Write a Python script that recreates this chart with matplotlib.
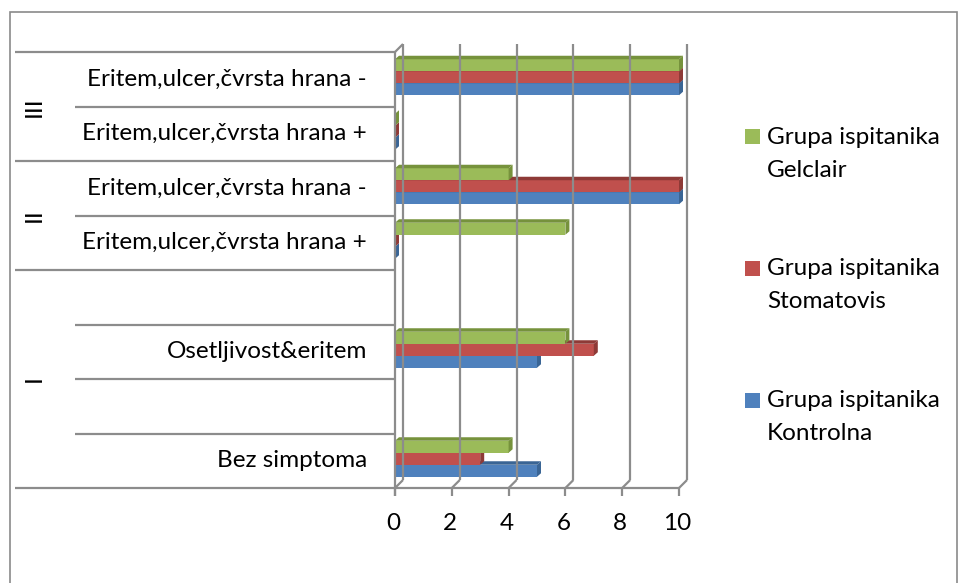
import numpy as np
import matplotlib.pyplot as plt
import matplotlib.transforms as mtransforms
from matplotlib.patches import Polygon, Rectangle

# categories bottom -> top ("" = empty slot in the Excel range)
categories = [
    "Bez simptoma",
    "",
    "Osetljivost&eritem",
    "",
    "Eritem,ulcer,čvrsta hrana +",
    "Eritem,ulcer,čvrsta hrana -",
    "Eritem,ulcer,čvrsta hrana +",
    "Eritem,ulcer,čvrsta hrana -",
]
group_labels = ["I", "II", "III"]
group_spans = [(0, 3), (4, 5), (6, 7)]

kontrolna = [5, None, 5, None, 0, 10, 0, 10]
stomatovis = [3, None, 7, None, 0, 10, 0, 10]
gelclair = [4, None, 6, None, 6, 4, 0, 10]

series_names = ["Grupa ispitanika\nKontrolna", "Grupa ispitanika\nStomatovis", "Grupa ispitanika\nGelclair"]
x_ticks = [0, 2, 4, 6, 8, 10]

colors = ["#4F81BD", "#C0504D", "#9BBB59"]
dark_colors = ["#3A6595", "#8E3A37", "#76923C"]
line_col = "#8c8c8c"

plt.rcParams["font.family"] = ["Lato", "DejaVu Sans"]
FS = 17.5

W, H = 960, 583
fig = plt.figure(figsize=(W / 100, H / 100), dpi=100)

# plot area: front x=0 at px 395, x=10 at px 679; y from px 488 (bottom) to 52 (top)
ax = fig.add_axes([395 / W, 1 - 488 / H, 284 / W, 436 / H])
ax.set_xlim(0, 10)
ax.set_ylim(-0.5, 7.5)
ax.axis("off")

ux = 284 / 10.0   # px per value unit
uy = 436 / 8.0    # px per category
wall_dx, wall_dy = 8 / ux, 8 / uy
bar_dx, bar_dy = 4 / ux, 3.5 / uy
bar_h = 12 / uy
bar_off = -16 / uy

ln = dict(color=line_col, lw=1.6, clip_on=False, solid_capstyle="butt")

# back wall gridlines + floor diagonals + ticks
for v in x_ticks:
    ax.plot([v + wall_dx, v + wall_dx], [-0.5 + wall_dy, 7.5 + wall_dy], **ln)
    ax.plot([v, v + wall_dx], [-0.5, -0.5 + wall_dy], **ln)
    ax.plot([v, v], [-0.5, -0.5 - 8 / uy], **ln)
ax.plot([0, 0], [-0.5 - 8 / uy, 7.5], **ln)
ax.plot([0, wall_dx], [7.5, 7.5 + wall_dy], **ln)

# category axis lines on the left
trans_left = mtransforms.blended_transform_factory(fig.transFigure, ax.transData)
outer = [-0.5] + [g[1] + 0.5 for g in group_spans]
for b in outer:
    ax.plot([15 / W, 395 / W], [b, b], transform=trans_left, **ln)
ax.plot([395 / W, 679 / W], [-0.5, -0.5], transform=trans_left, **ln)
for lo, hi in group_spans:
    for b in np.arange(lo + 0.5, hi, 1.0):
        ax.plot([75 / W, 395 / W], [b, b], transform=trans_left, **ln)

for i, cat in enumerate(categories):
    if cat:
        ax.text(367 / W, i, cat, transform=trans_left, ha="right", va="center", fontsize=FS)
for g, (lo, hi) in zip(group_labels, group_spans):
    ax.text(34 / W, (lo + hi) / 2, g, transform=trans_left, rotation=90,
            ha="center", va="center", fontsize=FS)

# bars with a little 3D top and end face
for j, vals in enumerate([kontrolna, stomatovis, gelclair]):
    for i, v in enumerate(vals):
        if v is None:
            continue
        y0 = i + bar_off + j * bar_h
        y1 = y0 + bar_h
        ax.barh(y0, v, height=bar_h, left=0, align="edge", color=colors[j], lw=0)
        top = Polygon([(0, y1), (v, y1), (v + bar_dx, y1 + bar_dy), (bar_dx, y1 + bar_dy)],
                      closed=True, fc=dark_colors[j], lw=0, clip_on=False)
        end = Polygon([(v, y0), (v, y1), (v + bar_dx, y1 + bar_dy), (v + bar_dx, y0 + bar_dy)],
                      closed=True, fc=dark_colors[j], lw=0, clip_on=False)
        ax.add_patch(top)
        ax.add_patch(end)

# value tick labels
trans_bot = mtransforms.blended_transform_factory(ax.transData, fig.transFigure)
for v in x_ticks:
    ax.text(v - 2 / ux, 1 - 524 / H, str(v), transform=trans_bot, ha="center", va="center", fontsize=FS)

# legend (top -> bottom: Gelclair, Stomatovis, Kontrolna)
legend_y = [137, 268, 400]
for k, j in enumerate([2, 1, 0]):
    y = legend_y[k]
    fig.patches.append(Rectangle((745 / W, 1 - (y + 7.5) / H), 15 / W, 15 / H,
                                 transform=fig.transFigure, fc=colors[j], lw=0))
    fig.text(767 / W, 1 - (y + 17) / H, series_names[j], ha="left", va="center",
             fontsize=FS, linespacing=1.75)

# chart border
fig.patches.append(Rectangle((10 / W, -0.1), 947 / W, 1 - 12 / H + 0.1,
                             transform=fig.transFigure, fill=False, ec="#8a8a8a", lw=1.2))

fig.savefig("out.png", dpi=100)
